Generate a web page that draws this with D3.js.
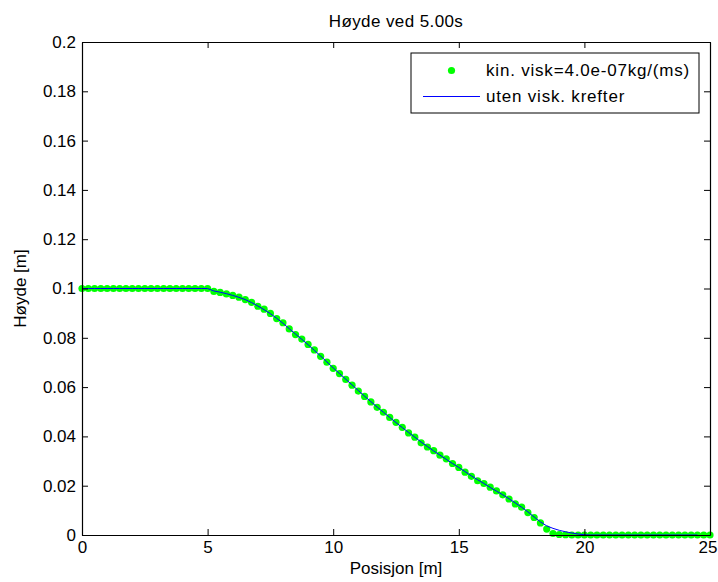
<!DOCTYPE html>
<html><head><meta charset="utf-8">
<script src="https://cdn.jsdelivr.net/npm/d3@7"></script>
<style>body{margin:0;background:#fff}svg{display:block}text{font-family:Arial,"Liberation Sans",sans-serif;fill:#000}</style>
</head><body><svg id="c" width="718" height="582"></svg>
<script>
const title = "Høyde ved 5.00s";
const xLabel = "Posisjon [m]";
const yLabel = "Høyde [m]";
const legendLabels = ["kin. visk=4.0e-07kg/(ms)", "uten visk. krefter"];
const xTicks = [0, 5, 10, 15, 20, 25];
const yTicks = [0, 0.02, 0.04, 0.06, 0.08, 0.1, 0.12, 0.14, 0.16, 0.18, 0.2];
const yTickLabels = ["0", "0.02", "0.04", "0.06", "0.08", "0.1", "0.12", "0.14", "0.16", "0.18", "0.2"];
// positions x = 0, 0.25, ..., 25
const xPos = d3.range(0, 101).map(i => i * 0.25);
// viscous (dots)
const hVisc = [
 0.1,0.1,0.1,0.1,0.1,0.1,0.1,0.1,0.1,0.1,0.1,0.1,0.1,0.1,0.1,0.1,0.1,0.1,0.1,0.1,0.1,
 0.0988,0.0984,0.0978,0.0972,0.0965,0.0955,0.0944,0.0928,0.0916,0.0899,0.0878,0.0861,0.0836,0.0813,0.0795,0.0773,
 0.0751,0.0725,0.0701,0.0676,0.0655,0.0631,0.0608,0.0584,0.0562,0.0540,0.0518,0.0498,0.0477,0.0457,0.0437,0.0414,
 0.0397,0.0374,0.0357,0.0342,0.0324,0.0309,0.0290,0.0274,0.0255,0.0238,0.0220,0.0209,0.0194,0.0179,0.0163,0.0146,
 0.0126,0.0113,0.0091,0.0071,0.0049,0.0024,0.0006,0.0002,0.0001,0,0,0,0,0,0,0,0,0,0,0,0,0,0,0,0,0,0,0,0,0,0,0,0,0
];
// inviscid (line)
const hInvisc = [
 0.1,0.1,0.1,0.1,0.1,0.1,0.1,0.1,0.1,0.1,0.1,0.1,0.1,0.1,0.1,0.1,0.1,0.1,0.1,0.1,0.1,
 0.0990,0.0985,0.0979,0.0972,0.0964,0.0955,0.0943,0.0929,0.0914,0.0898,0.0879,0.0859,0.0837,0.0815,0.0794,0.0772,
 0.0749,0.0726,0.0702,0.0678,0.0655,0.0632,0.0609,0.0586,0.0563,0.0541,0.0519,0.0498,0.0477,0.0456,0.0436,0.0416,
 0.0397,0.0377,0.0359,0.0341,0.0324,0.0307,0.0290,0.0274,0.0257,0.0240,0.0224,0.0209,0.0193,0.0178,0.0163,0.0147,
 0.0130,0.0113,0.0094,0.0073,0.0053,0.0037,0.0027,0.0019,0.0013,0.0008,0.0004,0.0001,0,0,0,0,0,0,0,0,0,0,0,0,0,0,0,0,0,0
];

const svg = d3.select("#c");
const L = 82, R = 710, T = 42, B = 535;
const x = d3.scaleLinear().domain([0, 25]).range([L, R]);
const y = d3.scaleLinear().domain([0, 0.2]).range([B, T]);
const fs = 17;

// dots
svg.append("g").selectAll("circle").data(xPos).join("circle")
  .attr("cx", d => x(d)).attr("cy", (d, i) => y(hVisc[i])).attr("r", 3.6).attr("fill", "#00ff00");
// line
const line = d3.line().x(d => x(d)).y((d, i) => y(hInvisc[i]));
svg.append("path").datum(xPos).attr("d", line).attr("fill", "none").attr("stroke", "#0000ff").attr("stroke-width", 1);

// axes
const tl = 6;
const gb = svg.append("g").attr("transform", `translate(0,${B})`)
  .call(d3.axisBottom(x).tickValues(xTicks).tickSizeInner(-tl).tickSizeOuter(0).tickPadding(5));
const gt = svg.append("g").attr("transform", `translate(0,${T})`)
  .call(d3.axisTop(x).tickValues(xTicks).tickSizeInner(-tl).tickSizeOuter(0).tickFormat(""));
const gl = svg.append("g").attr("transform", `translate(${L},0)`)
  .call(d3.axisLeft(y).tickValues(yTicks).tickSizeInner(-tl).tickSizeOuter(0).tickPadding(6)
    .tickFormat((d, i) => yTickLabels[i]));
const gr = svg.append("g").attr("transform", `translate(${R},0)`)
  .call(d3.axisRight(y).tickValues(yTicks).tickSizeInner(-tl).tickSizeOuter(0).tickFormat(""));
[gb, gt, gl, gr].forEach(g => {
  g.selectAll("path.domain").attr("stroke", "#000").attr("stroke-width", 1.2);
  g.selectAll(".tick line").attr("stroke", "#000").attr("stroke-width", 1);
  g.selectAll(".tick text").attr("font-size", fs).attr("font-family", "Arial, 'Liberation Sans', sans-serif").attr("fill", "#000");
});
gb.selectAll(".tick text").attr("dy", "0.75em");
gb.selectAll(".tick text").filter(d => d === 25).attr("dx", -2.5);

// title and labels
svg.append("text").attr("x", (L + R) / 2).attr("y", 21).attr("dy", "0.35em").attr("text-anchor", "middle").attr("font-size", fs).attr("letter-spacing", 0.4).text(title);
svg.append("text").attr("x", (L + R) / 2).attr("y", 568).attr("dy", "0.35em").attr("text-anchor", "middle").attr("font-size", fs).text(xLabel);
svg.append("text").attr("transform", `translate(20,${(T + B) / 2}) rotate(-90)`).attr("dy", "0.35em").attr("text-anchor", "middle").attr("font-size", fs).text(yLabel);

// legend
const lg = svg.append("g");
lg.append("rect").attr("x", 411).attr("y", 53).attr("width", 288).attr("height", 60)
  .attr("fill", "#fff").attr("stroke", "#000").attr("stroke-width", 1);
lg.append("circle").attr("cx", 451.5).attr("cy", 70.5).attr("r", 3.6).attr("fill", "#00ff00");
lg.append("line").attr("x1", 423).attr("x2", 480).attr("y1", 96.5).attr("y2", 96.5).attr("stroke", "#0000ff").attr("stroke-width", 1);
lg.append("text").attr("x", 486).attr("y", 70.5).attr("dy", "0.35em").attr("font-size", fs).attr("letter-spacing", 0.8).text(legendLabels[0]);
lg.append("text").attr("x", 486).attr("y", 96.5).attr("dy", "0.35em").attr("font-size", fs).attr("letter-spacing", 0.8).text(legendLabels[1]);
</script></body></html>
